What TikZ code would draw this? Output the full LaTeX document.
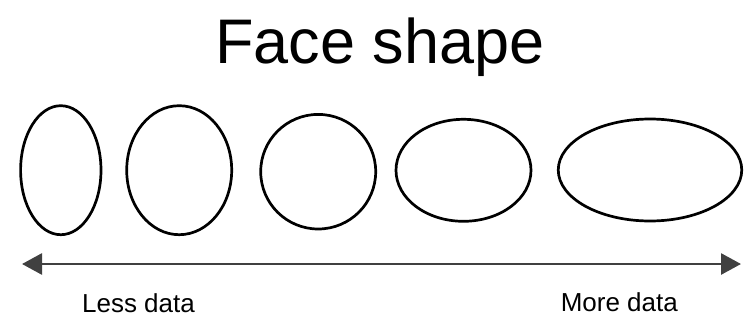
\documentclass[tikz,border=0pt]{standalone}
\usepackage{fontspec}
\setmainfont{Liberation Sans}
\usetikzlibrary{shapes.geometric,arrows.meta}
\begin{document}
\begin{tikzpicture}[x=1pt,y=-1pt,
  face/.style={draw=black,line width=2.7pt,ellipse,inner sep=0pt,outer sep=0pt},
  lbl/.style={anchor=base,inner sep=0pt,font=\fontsize{26}{30}\selectfont},
  axis/.style={draw=black!75,line width=2.8pt,{Triangle[length=20pt,width=21pt]}-{Triangle[length=20pt,width=21pt]}}]
\useasboundingbox (0,0) rectangle (749,324);
\node[anchor=base,inner sep=0pt,font=\fontsize{63}{70}\selectfont] (title) at (380,63) {Face shape};
\node[face,minimum width=80.4pt,minimum height=129pt] (f1) at (60.8,170.2) {};
\node[face,minimum width=105pt,minimum height=129pt] (f2) at (179.2,170.2) {};
\node[face,minimum width=115pt,minimum height=114.6pt] (f3) at (318.2,171.7) {};
\node[face,minimum width=135pt,minimum height=102pt] (f4) at (463.5,170.3) {};
\node[face,minimum width=183.5pt,minimum height=102pt] (f5) at (650,170) {};
\coordinate (aL) at (22,264);
\coordinate (aR) at (741,264);
\draw[axis] (aL) -- (aR);
\node[lbl] (less) at (138.5,312) {Less data};
\node[lbl] (more) at (619.3,311) {More data};
\end{tikzpicture}
\end{document}
